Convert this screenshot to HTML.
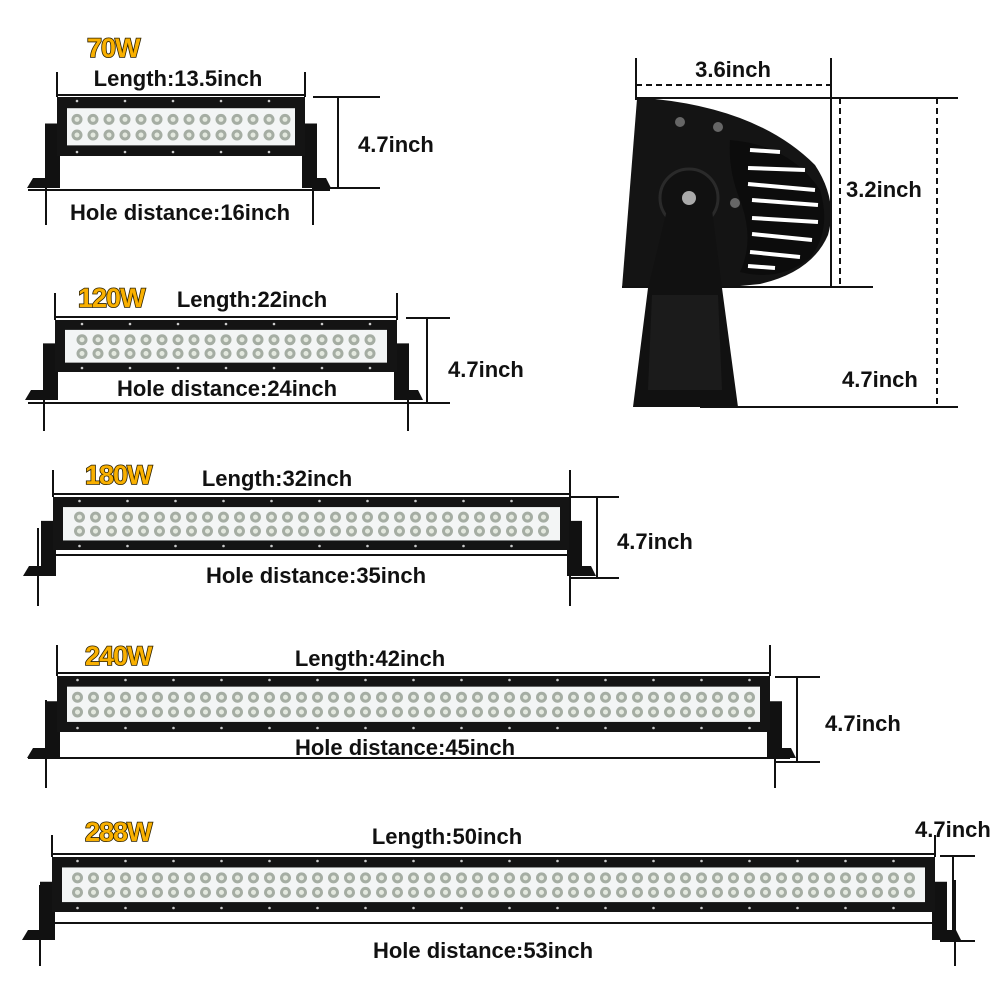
<!DOCTYPE html>
<html><head><meta charset="utf-8"><style>
html,body{margin:0;padding:0;background:#fff;}
svg{display:block}
text{font-family:"Liberation Sans",Arial,sans-serif;font-weight:bold;fill:#111}
.w{font-size:27px;fill:#f9b000;stroke:#2a1f00;stroke-width:1.6px;paint-order:stroke;letter-spacing:-1px}
.t{font-size:22px}
</style></head><body>
<svg id="s" width="1000" height="1000" viewBox="0 0 1000 1000" xmlns="http://www.w3.org/2000/svg">
<g id="bars"></g>
<!-- side view -->
<g>
<path d="M637,99 L655,99 Q760,110 815,165 Q838,200 828,235 Q812,272 760,284 L720,288 L622,288 Z" fill="#141414"/>
<path d="M730,140 Q790,145 820,190 Q832,230 810,258 Q780,282 740,272 Q755,240 740,200 Q728,170 730,140Z" fill="#0c0c0c"/>
<g stroke="#fff" stroke-width="4">
<line x1="750" y1="150" x2="780" y2="152"/><line x1="748" y1="168" x2="805" y2="170"/><line x1="748" y1="184" x2="815" y2="190"/><line x1="752" y1="200" x2="818" y2="205"/><line x1="752" y1="218" x2="818" y2="222"/><line x1="752" y1="234" x2="812" y2="240"/><line x1="750" y1="252" x2="800" y2="257"/><line x1="748" y1="266" x2="775" y2="268"/>
</g>
<circle cx="689" cy="198" r="29" fill="#111" stroke="#2a2a2a" stroke-width="3"/>
<circle cx="689" cy="198" r="7" fill="#aaa"/>
<circle cx="680" cy="122" r="5" fill="#666"/><circle cx="718" cy="127" r="5" fill="#666"/><circle cx="735" cy="203" r="5" fill="#666"/>
<path d="M667,210 L712,210 L722,288 L738,407 L633,407 L648,288 Z" fill="#111"/>
<path d="M652,295 L718,295 L722,390 L648,390 Z" fill="#1b1b1b"/>
</g>
<g stroke="#111" stroke-width="2" fill="none">
<line x1="636" y1="58" x2="636" y2="100"/><line x1="831" y1="58" x2="831" y2="287"/>
<line x1="636" y1="85" x2="831" y2="85" stroke-dasharray="6,4"/>
<line x1="636" y1="98" x2="958" y2="98"/>
<line x1="840" y1="98" x2="840" y2="287" stroke-dasharray="6,4"/>
<line x1="622" y1="287" x2="873" y2="287"/>
<line x1="937" y1="98" x2="937" y2="407" stroke-dasharray="6,4"/>
<line x1="700" y1="407" x2="958" y2="407"/>
</g>
<text class="t" x="733" y="77" text-anchor="middle">3.6inch</text>
<text class="t" x="846" y="197">3.2inch</text>
<text class="t" x="842" y="387">4.7inch</text>
</svg>
<script>
// x1,x2,top,bot,lenLine,tickTop,feetY,holeY,holeX1,holeX2,
// tickL,tickLtop,tickLbot,tickR,tickRtop,tickRbot,
// hTop,hBot,hx1,hx2,vx, watt,wx,wy, len,lx,ly, hole,hcx,hby, ix,iy
var bars=[
 [57,305,97,156,95,72,188,190,28,330, 46,140,225,313,140,225, 97,188,313,380,338, "70W",87,57,"Length:13.5inch",178,86,"Hole distance:16inch",180,220,358,152],
 [55,397,320,372,317,293,400,403,28,450, 44,372,431,408,372,431, 318,403,406,450,427, "120W",78,307,"Length:22inch",252,307,"Hole distance:24inch",227,396,448,377],
 [53,570,497,550,494,470,576,555,45,570, 38,528,606,570,470,606, 497,578,570,619,597, "180W",85,484,"Length:32inch",277,486,"Hole distance:35inch",316,583,617,549],
 [57,770,676,732,673,645,758,758,28,790, 46,700,788,775,740,788, 677,762,775,820,797, "240W",85,665,"Length:42inch",370,666,"Hole distance:45inch",405,755,825,731],
 [52,935,857,912,854,835,940,923,45,935, 40,885,966,955,880,966, 856,941,940,975,953, "288W",85,841,"Length:50inch",447,844,"Hole distance:53inch",483,958,915,837]
];
var h="";
bars.forEach(function(b){
 var x1=b[0],x2=b[1],t=b[2],bo=b[3],ly=b[4],tk=b[5],fy=b[6],hy=b[7];
 // brackets
 var bt=t+(bo-t)*0.45;
 h+='<path d="M'+(x1-12)+','+bt+' L'+(x1+3)+','+bt+' L'+(x1+3)+','+fy+' L'+(x1-30)+','+fy+' L'+(x1-24)+','+(fy-10)+' L'+(x1-12)+','+(fy-10)+'Z" fill="#111"/>';
 h+='<path d="M'+(x2+12)+','+bt+' L'+(x2-3)+','+bt+' L'+(x2-3)+','+fy+' L'+(x2+26)+','+fy+' L'+(x2+21)+','+(fy-10)+' L'+(x2+12)+','+(fy-10)+'Z" fill="#111"/>';
 h+='<rect x="'+x1+'" y="'+t+'" width="'+(x2-x1)+'" height="'+(bo-t)+'" fill="#141414"/>';
 var ih=bo-t, ly1=t+ih*0.19, lh=ih*0.63;
 h+='<rect x="'+(x1+10)+'" y="'+ly1+'" width="'+(x2-x1-20)+'" height="'+lh+'" fill="#f3f5f5"/>';
 var pitch=16, n=Math.floor((x2-x1-24)/pitch), off=(x2-x1-20-n*pitch)/2;
 for(var i=0;i<n;i++){var cx=x1+10+off+pitch/2+i*pitch;
  [ly1+lh*0.3,ly1+lh*0.72].forEach(function(cy){h+='<circle cx="'+cx+'" cy="'+cy+'" r="5.5" fill="#a5ada3"/><circle cx="'+cx+'" cy="'+cy+'" r="2.5" fill="#e4e9df"/>';});}
 for(var j=0;j<n;j+=3){var dx=x1+10+off+pitch/2+j*pitch; h+='<circle cx="'+dx+'" cy="'+(t+4)+'" r="1.3" fill="#ccc"/><circle cx="'+dx+'" cy="'+(bo-4)+'" r="1.3" fill="#ccc"/>';}
 h+='<g stroke="#111" stroke-width="2">';
 h+='<line x1="'+x1+'" y1="'+tk+'" x2="'+x1+'" y2="'+t+'"/><line x1="'+x2+'" y1="'+tk+'" x2="'+x2+'" y2="'+t+'"/>';
 h+='<line x1="'+x1+'" y1="'+ly+'" x2="'+x2+'" y2="'+ly+'"/>';
 h+='<line x1="'+b[8]+'" y1="'+hy+'" x2="'+b[9]+'" y2="'+hy+'"/>';
 h+='<line x1="'+b[10]+'" y1="'+b[11]+'" x2="'+b[10]+'" y2="'+b[12]+'"/><line x1="'+b[13]+'" y1="'+b[14]+'" x2="'+b[13]+'" y2="'+b[15]+'"/>';
 h+='<line x1="'+b[18]+'" y1="'+b[16]+'" x2="'+b[19]+'" y2="'+b[16]+'"/><line x1="'+b[18]+'" y1="'+b[17]+'" x2="'+b[19]+'" y2="'+b[17]+'"/>';
 h+='<line x1="'+b[20]+'" y1="'+b[16]+'" x2="'+b[20]+'" y2="'+b[17]+'"/>';
 h+='</g>';
 h+='<text class="w" x="'+b[22]+'" y="'+b[23]+'">'+b[21]+'</text>';
 h+='<text class="t" x="'+b[25]+'" y="'+b[26]+'" text-anchor="middle">'+b[24]+'</text>';
 h+='<text class="t" x="'+b[28]+'" y="'+b[29]+'" text-anchor="middle">'+b[27]+'</text>';
 h+='<text class="t" x="'+b[30]+'" y="'+b[31]+'">4.7inch</text>';
});
document.getElementById("bars").innerHTML=h;
</script>
</body></html>
